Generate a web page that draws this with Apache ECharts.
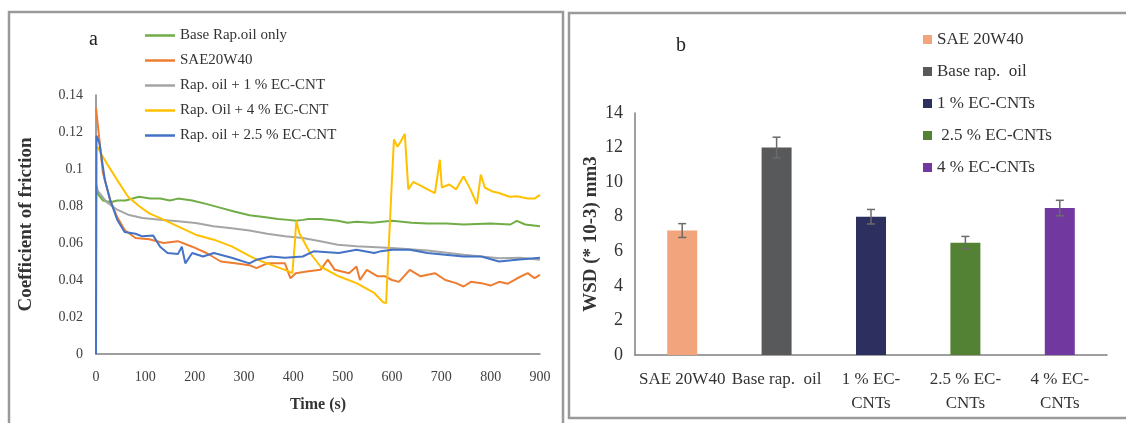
<!DOCTYPE html>
<html>
<head>
<meta charset="utf-8">
<script src="https://cdn.jsdelivr.net/npm/echarts@6/dist/echarts.min.js"></script>
<style>
html,body{margin:0;padding:0;background:#fff;}
#c{width:1126px;height:423px;}
</style>
</head>
<body>
<div id="c"></div>
<script>
// ---------- Panel a: coefficient of friction vs time ----------
const seriesNamesA = ['Base Rap.oil only', 'SAE20W40', 'Rap. oil + 1 % EC-CNT', 'Rap. Oil + 4 % EC-CNT', 'Rap. oil + 2.5 % EC-CNT'];
const xTicksA = [0, 100, 200, 300, 400, 500, 600, 700, 800, 900];
const yTicksA = [0, 0.02, 0.04, 0.06, 0.08, 0.1, 0.12, 0.14];

const baseT = [0, 5, 14, 30, 43, 60, 87, 110, 130, 150, 166, 195, 225, 253, 280, 311, 340, 369, 390, 405, 420, 430, 455, 490, 510, 528, 560, 600, 640, 672, 710, 745, 800, 840, 853, 870, 900];
const baseV = [0.090, 0.086, 0.083, 0.082, 0.083, 0.083, 0.085, 0.084, 0.084, 0.083, 0.084, 0.083, 0.081, 0.079, 0.077, 0.075, 0.074, 0.073, 0.0725, 0.072, 0.0725, 0.073, 0.073, 0.072, 0.071, 0.0715, 0.071, 0.072, 0.071, 0.0705, 0.0705, 0.070, 0.0705, 0.070, 0.072, 0.070, 0.069];

const saeT = [0, 4, 14, 29, 43, 58, 80, 108, 137, 166, 195, 224, 253, 282, 311, 325, 347, 383, 394, 405, 427, 455, 470, 484, 513, 528, 535, 549, 571, 586, 600, 614, 636, 658, 687, 708, 730, 745, 760, 781, 800, 817, 835, 853, 875, 889, 900];
const saeV = [0.133, 0.123, 0.098, 0.083, 0.074, 0.067, 0.0627, 0.062, 0.060, 0.061, 0.058, 0.0546, 0.050, 0.049, 0.048, 0.0464, 0.049, 0.049, 0.041, 0.0437, 0.0446, 0.0455, 0.051, 0.0455, 0.0437, 0.0473, 0.040, 0.0455, 0.042, 0.042, 0.040, 0.039, 0.0455, 0.042, 0.0437, 0.040, 0.0383, 0.0365, 0.039, 0.0383, 0.037, 0.039, 0.038, 0.0408, 0.0437, 0.041, 0.0428];

const cnt1T = [0, 4, 22, 43, 65, 94, 130, 166, 202, 238, 275, 311, 347, 383, 419, 455, 490, 528, 600, 672, 745, 817, 860, 900];
const cnt1V = [0.092, 0.088, 0.082, 0.078, 0.0753, 0.0735, 0.0726, 0.0717, 0.0708, 0.069, 0.068, 0.0667, 0.065, 0.0636, 0.0627, 0.0609, 0.059, 0.0582, 0.0573, 0.056, 0.0536, 0.0518, 0.052, 0.051];

const cnt4T = [3, 11, 22, 43, 65, 87, 108, 137, 166, 202, 239, 275, 311, 326, 347, 383, 398, 403, 406, 412, 434, 455, 492, 528, 564, 582, 588, 600, 604, 611, 618, 626, 633, 643, 658, 672, 687, 697, 701, 716, 730, 745, 759, 772, 780, 788, 802, 817, 838, 853, 875, 889, 900];
const cnt4V = [0.112, 0.108, 0.103, 0.094, 0.085, 0.080, 0.076, 0.0726, 0.069, 0.0645, 0.0618, 0.0582, 0.053, 0.051, 0.049, 0.0455, 0.0437, 0.060, 0.072, 0.0654, 0.0546, 0.0473, 0.042, 0.0383, 0.033, 0.028, 0.0275, 0.095, 0.116, 0.112, 0.115, 0.119, 0.089, 0.093, 0.091, 0.089, 0.087, 0.105, 0.090, 0.0916, 0.089, 0.096, 0.089, 0.081, 0.097, 0.090, 0.088, 0.087, 0.085, 0.0853, 0.084, 0.084, 0.086];

const cnt25T = [0, 1, 7, 18, 29, 43, 58, 80, 94, 116, 130, 145, 166, 174, 181, 195, 217, 239, 275, 311, 325, 354, 383, 419, 441, 492, 528, 564, 578, 600, 636, 672, 708, 745, 781, 817, 853, 900];
const cnt25V = [0, 0.118, 0.114, 0.094, 0.083, 0.0726, 0.066, 0.065, 0.0636, 0.064, 0.058, 0.0546, 0.054, 0.058, 0.049, 0.0546, 0.0527, 0.0546, 0.052, 0.049, 0.0509, 0.0527, 0.052, 0.0527, 0.0555, 0.0546, 0.0564, 0.0546, 0.0556, 0.0564, 0.0564, 0.0546, 0.0536, 0.0527, 0.0527, 0.050, 0.0509, 0.052];

const lineColors = ['#70ad47', '#ed7d31', '#a5a5a5', '#ffc000', '#4472c4'];

// ---------- Panel b: WSD bars ----------
const categoriesB = ['SAE 20W40', 'Base rap.  oil', '1 % EC-\nCNTs', '2.5 % EC-\nCNTs', '4 % EC-\nCNTs'];
const legendNamesB = ['SAE 20W40', 'Base rap.  oil', '1 % EC-CNTs', ' 2.5 % EC-CNTs', '4 % EC-CNTs'];
const wsdValues = [7.2, 12.0, 8.0, 6.5, 8.5];
const wsdErrors = [0.4, 0.6, 0.42, 0.36, 0.45];
const yTicksB = [0, 2, 4, 6, 8, 10, 12, 14];
const barColors = ['#f2a47c', '#58595b', '#2d2f5f', '#548235', '#7138a0'];

const FONT = 'Liberation Serif';
const pairs = (t, v) => t.map((x, i) => [x, v[i]]);
const lineData = [pairs(baseT, baseV), pairs(saeT, saeV), pairs(cnt1T, cnt1V), pairs(cnt4T, cnt4V), pairs(cnt25T, cnt25V)];

const series = [];
seriesNamesA.forEach((n, i) => {
  series.push({
    name: n, type: 'line', xAxisIndex: 0, yAxisIndex: 0,
    data: lineData[i], symbol: 'none', smooth: false,
    lineStyle: { color: lineColors[i], width: 2 }, itemStyle: { color: lineColors[i] },
    z: 2 + i
  });
});
legendNamesB.forEach((n, i) => {
  series.push({
    name: n, type: 'bar', xAxisIndex: 1, yAxisIndex: 1,
    data: wsdValues.map((v, j) => (j === i ? v : '-')),
    barWidth: 30, barGap: '-100%',
    itemStyle: { color: barColors[i] }
  });
});
series.push({
  name: 'err', type: 'custom', xAxisIndex: 1, yAxisIndex: 1,
  data: wsdValues.map((v, i) => [i, v - wsdErrors[i], v + wsdErrors[i]]),
  renderItem: function (params, api) {
    const lo = api.coord([api.value(0), api.value(1)]);
    const hi = api.coord([api.value(0), api.value(2)]);
    const w = 4;
    const st = { stroke: '#6b6b6b', lineWidth: 1.5 };
    return {
      type: 'group', children: [
        { type: 'line', shape: { x1: lo[0], y1: lo[1], x2: hi[0], y2: hi[1] }, style: st },
        { type: 'line', shape: { x1: lo[0] - w, y1: lo[1], x2: lo[0] + w, y2: lo[1] }, style: st },
        { type: 'line', shape: { x1: hi[0] - w, y1: hi[1], x2: hi[0] + w, y2: hi[1] }, style: st }
      ]
    };
  },
  z: 10
});

const axisLine = { show: true, lineStyle: { color: '#7f7f7f', width: 1.5 } };
const chart = echarts.init(document.getElementById('c'));
chart.setOption({
  animation: false,
  backgroundColor: '#fff',
  textStyle: { fontFamily: FONT },
  graphic: [
    { type: 'rect', shape: { x: 9, y: 12, width: 554, height: 430 }, style: { fill: 'none', stroke: '#9a9a9a', lineWidth: 2.5 }, z: -1 },
    { type: 'rect', shape: { x: 569, y: 13, width: 600, height: 405 }, style: { fill: 'none', stroke: '#9a9a9a', lineWidth: 2.5 }, z: -1 },
    { type: 'text', left: 89, top: 30, style: { text: 'a', font: '20px "Liberation Serif"', fill: '#222' } },
    { type: 'text', left: 676, top: 36, style: { text: 'b', font: '20px "Liberation Serif"', fill: '#222' } }
  ],
  legend: [
    {
      data: seriesNamesA, orient: 'vertical', left: 140, top: 23,
      icon: 'rect', itemWidth: 30, itemHeight: 2.5, itemGap: 10,
      textStyle: { fontFamily: FONT, fontSize: 15, color: '#333' }
    },
    {
      data: legendNamesB, orient: 'vertical', left: 918, top: 26,
      icon: 'rect', itemWidth: 9, itemHeight: 9, itemGap: 15,
      textStyle: { fontFamily: FONT, fontSize: 17, color: '#333' }
    }
  ],
  grid: [
    { left: 96, top: 95, width: 444, bottom: 69, containLabel: false },
    { left: 635, top: 113, width: 472, bottom: 68, containLabel: false }
  ],
  xAxis: [
    {
      gridIndex: 0, type: 'value', min: xTicksA[0], max: xTicksA[xTicksA.length - 1], interval: 100,
      axisLine: axisLine, axisTick: { show: false }, splitLine: { show: false },
      axisLabel: { fontFamily: FONT, fontSize: 14, color: '#404040', margin: 16 },
      name: 'Time (s)', nameLocation: 'middle', nameGap: 43,
      nameTextStyle: { fontFamily: FONT, fontSize: 16, fontWeight: 'bold', color: '#333' }
    },
    {
      gridIndex: 1, type: 'category', data: categoriesB,
      axisLine: axisLine, axisTick: { show: false },
      axisLabel: { fontFamily: FONT, fontSize: 17, color: '#333', margin: 13, lineHeight: 24, interval: 0 }
    }
  ],
  yAxis: [
    {
      gridIndex: 0, type: 'value', min: yTicksA[0], max: yTicksA[yTicksA.length - 1], interval: 0.02,
      axisLine: axisLine, axisTick: { show: false }, splitLine: { show: false },
      axisLabel: { fontFamily: FONT, fontSize: 14, color: '#404040', margin: 13 },
      name: 'Coefficient of friction', nameLocation: 'middle', nameGap: 60, nameRotate: 90,
      nameTextStyle: { fontFamily: FONT, fontSize: 19, fontWeight: 'bold', color: '#333' }
    },
    {
      gridIndex: 1, type: 'value', min: yTicksB[0], max: yTicksB[yTicksB.length - 1], interval: 2,
      axisLine: axisLine, axisTick: { show: false }, splitLine: { show: false },
      axisLabel: { fontFamily: FONT, fontSize: 18, color: '#333', margin: 12 },
      name: 'WSD (* 10-3) mm3', nameLocation: 'middle', nameGap: 34, nameRotate: 90,
      nameTextStyle: { fontFamily: FONT, fontSize: 19, fontWeight: 'bold', color: '#333' }
    }
  ],
  series: series
});
</script>
</body>
</html>
